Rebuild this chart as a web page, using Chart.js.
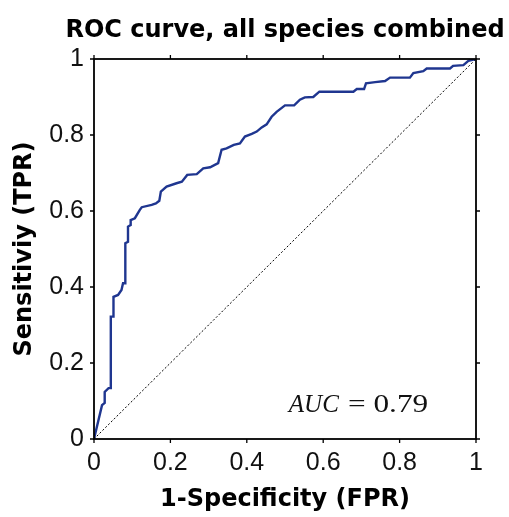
<!DOCTYPE html>
<html>
<head>
<meta charset="utf-8">
<script src="https://cdn.jsdelivr.net/npm/chart.js@4.4.1/dist/chart.umd.min.js"></script>
<style>
  html, body { margin: 0; padding: 0; background: #fff; }
  #wrap { width: 509px; height: 517px; }
</style>
</head>
<body>
<div id="wrap"><canvas id="roc" width="509" height="517"></canvas></div>
<script>
// ROC curve: false positive rate -> true positive rate
const fpr = [0, 0.021, 0.028, 0.028, 0.038, 0.044, 0.044, 0.051, 0.051, 0.063,
             0.072, 0.076, 0.082, 0.082, 0.089, 0.089, 0.096, 0.096, 0.107, 0.12,
             0.125, 0.151, 0.162, 0.171, 0.175, 0.19, 0.216, 0.23, 0.244, 0.269,
             0.286, 0.304, 0.325, 0.334, 0.347, 0.366, 0.382, 0.395, 0.413, 0.426,
             0.439, 0.452, 0.465, 0.478, 0.5, 0.524, 0.539, 0.552, 0.574, 0.59,
             0.679, 0.688, 0.707, 0.712, 0.736, 0.762, 0.775, 0.827, 0.836, 0.862,
             0.871, 0.932, 0.94, 0.967, 0.98, 1];
const tpr = [0, 0.089, 0.095, 0.124, 0.134, 0.134, 0.322, 0.322, 0.374, 0.379,
             0.392, 0.41, 0.41, 0.515, 0.519, 0.559, 0.563, 0.576, 0.581, 0.603,
             0.61, 0.616, 0.62, 0.627, 0.651, 0.664, 0.673, 0.677, 0.695, 0.697,
             0.712, 0.715, 0.726, 0.761, 0.765, 0.774, 0.778, 0.796, 0.803, 0.809,
             0.82, 0.828, 0.848, 0.861, 0.878, 0.878, 0.893, 0.899, 0.9, 0.914,
             0.914, 0.921, 0.921, 0.936, 0.939, 0.942, 0.951, 0.951, 0.963, 0.968,
             0.975, 0.975, 0.982, 0.984, 0.995, 1];
const chanceLine = [0, 1];

const tickValues = [0, 0.2, 0.4, 0.6, 0.8, 1];
const tickLabels = ['0', '0.2', '0.4', '0.6', '0.8', '1'];

const titleText = 'ROC curve, all species combined';
const xTitle = '1-Specificity (FPR)';
const yTitle = 'Sensitiviy (TPR)';
const aucLabel = 'AUC';
const aucValue = '= 0.79';

const LABEL_FONT = { family: '"DejaVu Sans", sans-serif', size: 24, weight: 'bold' };
const TICK_FONT = { family: '"Liberation Sans", Arial, sans-serif', size: 25 };

// box with outward ticks on all four sides, the title over the plot, and the AUC note
const framePlugin = {
    id: 'matlabFrame',
    afterDatasetsDraw(chart) {
        const { ctx, chartArea: a, scales: { x, y } } = chart;
        ctx.save();
        ctx.strokeStyle = '#000';
        ctx.lineWidth = 1.8;
        ctx.strokeRect(a.left, a.top, a.right - a.left, a.bottom - a.top);

        const len = 4;
        ctx.lineWidth = 1.3;
        ctx.beginPath();
        tickValues.forEach(v => {
            const px = x.getPixelForValue(v);
            const py = y.getPixelForValue(v);
            ctx.moveTo(px, a.bottom); ctx.lineTo(px, a.bottom + len);
            ctx.moveTo(px, a.top);    ctx.lineTo(px, a.top - len);
            ctx.moveTo(a.left, py);   ctx.lineTo(a.left - len, py);
            ctx.moveTo(a.right, py);  ctx.lineTo(a.right + len, py);
        });
        ctx.stroke();

        // title centred over the axes box (not the whole canvas)
        ctx.fillStyle = '#000';
        ctx.textAlign = 'center';
        ctx.textBaseline = 'alphabetic';
        ctx.font = 'bold 24px "DejaVu Sans", sans-serif';
        ctx.fillText(titleText, (a.left + a.right) / 2, a.top - 22);

        const ay = y.getPixelForValue(0.072);
        ctx.fillStyle = '#111';
        ctx.textAlign = 'left';
        ctx.font = 'italic 25px "Liberation Serif", "Times New Roman", serif';
        ctx.fillText(aucLabel, x.getPixelForValue(0.51), ay);
        ctx.font = '25px "Liberation Serif", "Times New Roman", serif';
        ctx.translate(x.getPixelForValue(0.665), ay);
        ctx.scale(1.25, 1);
        ctx.fillText(aucValue, 0, 0);
        ctx.restore();
    }
};

new Chart(document.getElementById('roc'), {
    type: 'line',
    data: {
        datasets: [
            {
                label: 'ROC',
                data: fpr.map((v, i) => ({ x: v, y: tpr[i] })),
                borderColor: '#1f3690',
                borderWidth: 2.4,
                pointRadius: 0,
                tension: 0,
                fill: false,
            },
            {
                label: 'chance',
                data: chanceLine.map(v => ({ x: v, y: v })),
                borderColor: '#000',
                borderWidth: 1,
                borderDash: [2, 2],
                pointRadius: 0,
                fill: false,
            },
        ],
    },
    options: {
        responsive: false,
        animation: false,
        layout: { padding: { top: 59, right: 33, left: 0, bottom: 0 } },
        plugins: {
            legend: { display: false },
            tooltip: { enabled: false },
            title: { display: false },
        },
        scales: {
            x: {
                type: 'linear',
                min: 0,
                max: 1,
                afterBuildTicks: s => { s.ticks = tickValues.map(v => ({ value: v })); },
                afterFit: s => { s.height = 78; },
                grid: { display: false, drawTicks: false },
                border: { display: false },
                ticks: {
                    callback: (v, i) => tickLabels[i],
                    color: '#111',
                    font: TICK_FONT,
                    padding: 9,
                    maxRotation: 0,
                    autoSkip: false,
                },
                title: {
                    display: true,
                    text: xTitle,
                    color: '#000',
                    font: LABEL_FONT,
                    padding: { top: 0, bottom: 3 },
                },
            },
            y: {
                type: 'linear',
                min: 0,
                max: 1,
                afterBuildTicks: s => { s.ticks = tickValues.map(v => ({ value: v })); },
                afterFit: s => { s.width = 94; },
                grid: { display: false, drawTicks: false },
                border: { display: false },
                ticks: {
                    callback: (v, i) => tickLabels[i],
                    color: '#111',
                    font: TICK_FONT,
                    padding: 10,
                    autoSkip: false,
                },
                title: {
                    display: true,
                    text: yTitle,
                    color: '#000',
                    font: LABEL_FONT,
                    padding: { top: 10, bottom: 0 },
                },
            },
        },
    },
    plugins: [framePlugin],
});
</script>
</body>
</html>
